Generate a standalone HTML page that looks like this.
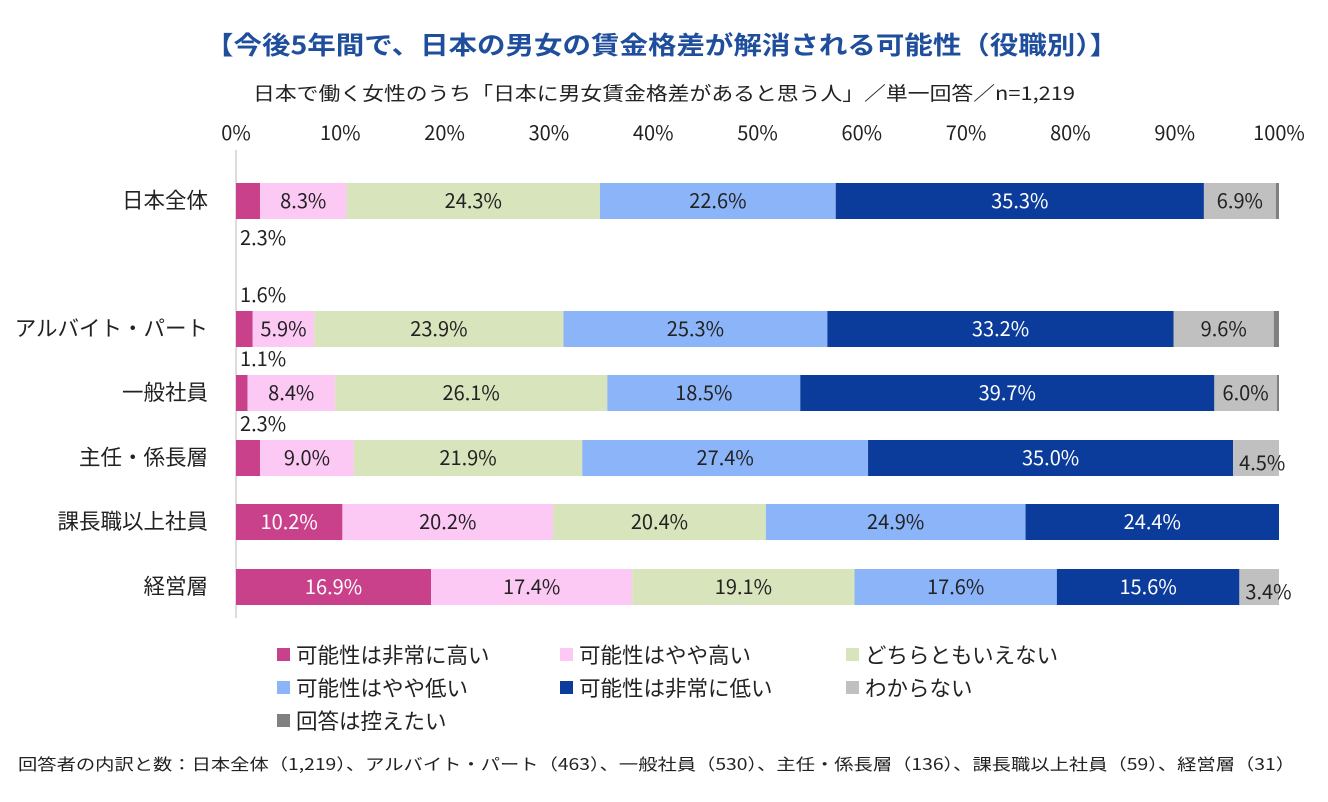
<!DOCTYPE html>
<html><head><meta charset="utf-8"><style>
body{margin:0;width:1328px;height:797px;background:#fff;overflow:hidden;font-family:"Noto Sans CJK JP","Liberation Sans",sans-serif;color:#222}
svg text{font-family:"Noto Sans CJK JP","Liberation Sans",sans-serif}
</style></head><body>
<svg id="chart" width="1328" height="797" xmlns="http://www.w3.org/2000/svg">
<text x="205" y="54" textLength="913" lengthAdjust="spacingAndGlyphs" font-size="25" font-weight="bold" fill="#1f4e9c">【今後5年間で、日本の男女の賃金格差が解消される可能性（役職別）】</text>
<text x="253" y="100" textLength="822" lengthAdjust="spacingAndGlyphs" font-size="19" fill="#222">日本で働く女性のうち「日本に男女賃金格差があると思う人」／単一回答／n=1,219</text>
<line x1="236" y1="150" x2="236" y2="618" stroke="#d0d0d0" stroke-width="1.5"/>
<g id="xticks"></g>
<g id="bars"></g>
<g id="legend"></g>
<text x="18" y="770" textLength="1277" lengthAdjust="spacingAndGlyphs" font-size="16" fill="#222">回答者の内訳と数：日本全体（1,219）、アルバイト・パート（463）、一般社員（530）、主任・係長層（136）、課長職以上社員（59）、経営層（31）</text>
</svg>
<script>
const categories=["日本全体","アルバイト・パート","一般社員","主任・係長層","課長職以上社員","経営層"];
const seriesNames=["可能性は非常に高い","可能性はやや高い","どちらともいえない","可能性はやや低い","可能性は非常に低い","わからない","回答は控えたい"];
const sVeryHigh=[2.3,1.6,1.1,2.3,10.2,18.7];
const sHigh=[8.3,5.9,8.4,9.0,20.2,19.3];
const sNeutral=[24.3,23.9,26.1,21.9,20.4,21.3];
const sLow=[22.6,25.3,18.5,27.4,24.9,19.4];
const sVeryLow=[35.3,33.2,39.7,35.0,24.4,17.5];
const sUnknown=[6.9,9.6,6.0,4.5,0,3.8];
const sDecline=[0.3,0.5,0.2,0,0,0];
const lVeryHigh=["2.3%","1.6%","1.1%","2.3%","10.2%","16.9%"];
const lHigh=["8.3%","5.9%","8.4%","9.0%","20.2%","17.4%"];
const lNeutral=["24.3%","23.9%","26.1%","21.9%","20.4%","19.1%"];
const lLow=["22.6%","25.3%","18.5%","27.4%","24.9%","17.6%"];
const lVeryLow=["35.3%","33.2%","39.7%","35.0%","24.4%","15.6%"];
const lUnknown=["6.9%","9.6%","6.0%","4.5%","","3.4%"];
const tickLabels=["0%","10%","20%","30%","40%","50%","60%","70%","80%","90%","100%"];
const series=[sVeryHigh,sHigh,sNeutral,sLow,sVeryLow,sUnknown,sDecline];
const labels=[lVeryHigh,lHigh,lNeutral,lLow,lVeryLow,lUnknown];
const colors=["#c9418b","#fcc9f5","#d8e4bc","#8cb4f8","#0b3b9b","#c0c0c0","#808080"];
const textColors=["#fff","#222","#222","#222","#fff","#222","#222"];
const rowY=[201,329,393,458,522,587];
const ns="http://www.w3.org/2000/svg";
const x=v=>236+v*10.43;
function mk(tag,attrs,parent,txt){const e=document.createElementNS(ns,tag);for(const k in attrs)e.setAttribute(k,attrs[k]);if(txt!==undefined)e.textContent=txt;parent.appendChild(e);return e;}
const xt=document.getElementById('xticks');
tickLabels.forEach((t,i)=>{const e=mk('text',{x:x(i*10),y:140,'text-anchor':'middle','font-size':20,fill:'#222'},xt,t);

});
const bg=document.getElementById('bars');
categories.forEach((c,r)=>{
 const cy=rowY[r];
 const l=mk('text',{x:208,y:cy+7,'text-anchor':'end','font-size':21.5,fill:'#222'},bg,c);
 
 
 let acc=0;
 series.forEach((s,k)=>{
  const v=s[r];if(v<=0)return;
  const x0=x(acc),x1=x(Math.min(acc+v,100));acc+=v;
  const rc=mk('rect',{x:x0,y:cy-18,width:Math.max(x1-x0,0),height:36,fill:colors[k]},bg);
  
  
  if(k===6||!labels[k][r])return;
  const w=x1-x0;let tx=(x0+x1)/2,ty=cy+7,fill=textColors[k],anchor='middle';
  if(w<50){
    fill='#222';
    if(k===0){tx=x0+4;anchor='start';ty=(r===0)?cy+44:cy-27;}
    else if(w<48&&k===5){tx=x0+6;anchor='start';ty=cy+12;}
  }
  const t=mk('text',{x:tx,y:ty,'text-anchor':anchor,'font-size':20,fill:fill},bg,labels[k][r]);
  
  
 });
});
const lg=document.getElementById('legend');
const lx=[277,560,846],ly=[655,688,721];
seriesNames.forEach((n,i)=>{
 const cx=lx[i%3],cy=ly[Math.floor(i/3)];
 const g=mk('g',{},lg);
 
 
 mk('rect',{x:cx,y:cy-7,width:13,height:13,fill:colors[i]},g);
 mk('text',{x:cx+19,y:cy+8,'font-size':21.5,fill:'#222'},g,n);
});
</script>
</body></html>
